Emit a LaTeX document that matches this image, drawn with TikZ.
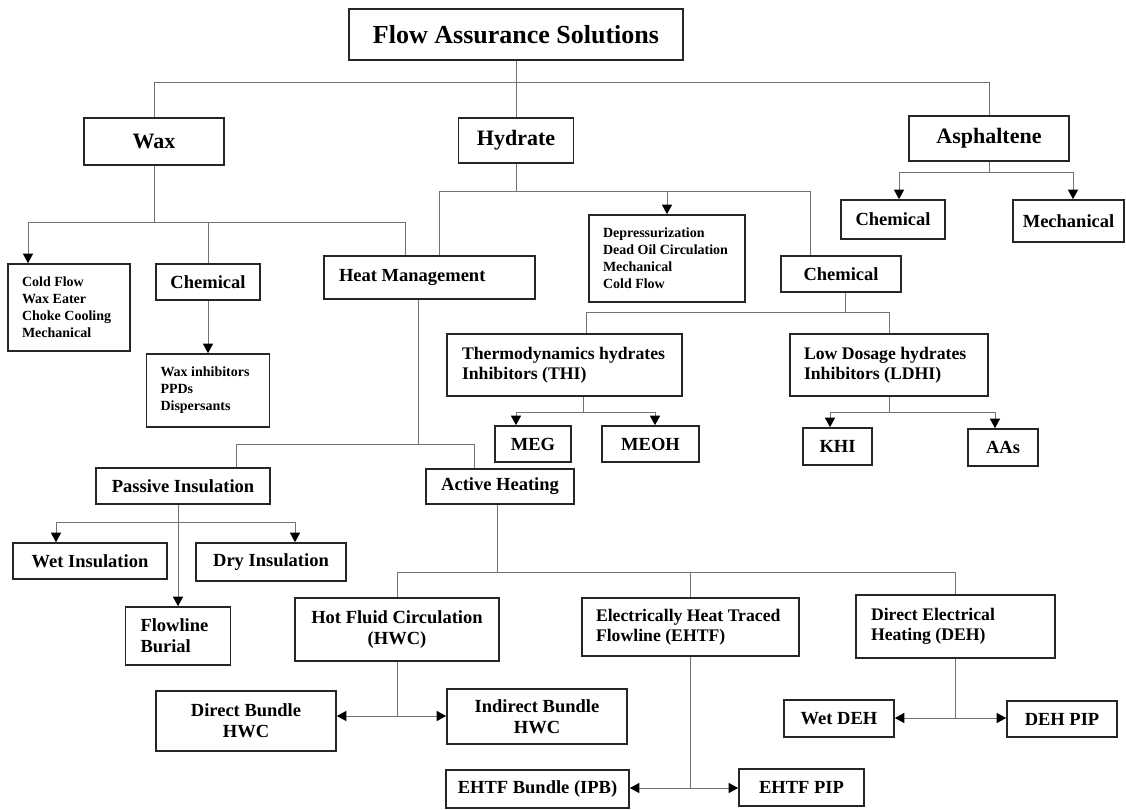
\documentclass[tikz,border=0pt]{standalone}
\usepackage{fontspec}
\setmainfont{Liberation Serif}
\usetikzlibrary{arrows.meta}

\tikzset{
  box/.style={draw=black!85, line width=1.6pt, inner sep=0pt, align=center,
    font=\fontsize{18.5}{21}\selectfont\bfseries},
  topbox/.style={box, font=\fontsize{22}{26}\selectfont\bfseries},
  leftbox/.style={box, align=flush left, font=\fontsize{17.7}{20.5}\selectfont\bfseries},
  listbox/.style={box, align=flush left, font=\fontsize{14}{17}\selectfont\bfseries},
  link/.style={draw=black!55, line width=1pt},
  arr/.style={link, -{Triangle[length=9.5pt,width=10pt,color=black]}},
}

\begin{document}
\begin{tikzpicture}[x=1pt, y=-1pt]
  % Page frame
  \useasboundingbox (0,0) rectangle (1126,810);
  \fill[white] (0,0) rectangle (1126,810);

  % Define top level boxes
  \node[box, font=\fontsize{26}{30}\selectfont\bfseries, minimum width=334pt, minimum height=51pt] (root) at (516,34.5) {Flow Assurance Solutions};
  \node[topbox, minimum width=140pt, minimum height=47pt] (wax) at (154,141.5) {Wax};
  \node[topbox, minimum width=115pt, minimum height=45pt] (hydrate) at (516,140.5) {Hydrate};
  \node[topbox, minimum width=160pt, minimum height=45pt] (asph) at (989,138.5) {Asphaltene};

  % Define wax boxes
  \node[listbox, text width=94pt, inner xsep=14pt, minimum height=87pt] (coldflow) at (69,307.5) {Cold Flow\\Wax Eater\\Choke Cooling\\Mechanical};
  \node[box, minimum width=104pt, minimum height=36pt] (waxchem) at (208,282) {Chemical};
  \node[listbox, text width=95pt, inner xsep=14pt, minimum height=73pt] (waxinh) at (208,390.5) {Wax inhibitors\\PPDs\\Dispersants};

  % Define hydrate boxes
  \node[box, align=flush left, text width=181pt, inner xsep=15pt, minimum height=43pt] (hm) at (429.5,277.5) {Heat Management};
  \node[listbox, text width=128pt, inner xsep=14pt, minimum height=87pt] (depress) at (667,258.5) {Depressurization\\Dead Oil Circulation\\Mechanical\\Cold Flow};
  \node[box, minimum width=120pt, minimum height=36pt] (hydchem) at (841,274) {Chemical};
  \node[leftbox, text width=205pt, inner xsep=15pt, minimum height=62pt] (thi) at (564.5,365) {Thermodynamics hydrates\\Inhibitors (THI)};
  \node[leftbox, text width=170pt, inner xsep=14pt, minimum height=62pt] (ldhi) at (889,365) {Low Dosage hydrates\\Inhibitors (LDHI)};
  \node[box, minimum width=76pt, minimum height=36pt] (meg) at (533,444) {MEG};
  \node[box, minimum width=97pt, minimum height=36pt] (meoh) at (650.5,444) {MEOH};
  \node[box, minimum width=69pt, minimum height=37pt] (khi) at (837.5,446.5) {KHI};
  \node[box, minimum width=70pt, minimum height=37pt] (aas) at (1003,447.5) {AAs};

  % Define asphaltene boxes
  \node[box, minimum width=104pt, minimum height=39pt] (asphchem) at (893,219.5) {Chemical};
  \node[box, minimum width=111pt, minimum height=42pt] (asphmech) at (1068.5,221) {Mechanical};

  % Define heat management boxes
  \node[box, minimum width=174pt, minimum height=36pt] (passive) at (183,486) {Passive Insulation};
  \node[box, minimum width=148pt, minimum height=35pt] (active) at (500,486.5) {Active Heating};
  \node[box, minimum width=154pt, minimum height=36pt] (wetins) at (90,561) {Wet Insulation};
  \node[box, minimum width=150pt, minimum height=38pt] (dryins) at (271,562) {Dry Insulation};
  \node[box, align=flush left, text width=75pt, inner xsep=15pt, minimum height=58pt] (burial) at (178,636) {Flowline\\Burial};
  \node[box, minimum width=204pt, minimum height=63pt] (hfc) at (397,629.5) {Hot Fluid Circulation\\(HWC)};
  \node[leftbox, text width=189pt, inner xsep=14pt, minimum height=58pt] (ehtf) at (690.5,627) {Electrically Heat Traced\\Flowline (EHTF)};
  \node[leftbox, text width=169pt, inner xsep=15pt, minimum height=63pt] (deh) at (955.5,626.5) {Direct Electrical\\Heating (DEH)};
  \node[box, minimum width=180pt, minimum height=60pt] (directb) at (246,721) {Direct Bundle\\HWC};
  \node[box, minimum width=180pt, minimum height=55pt] (indirectb) at (537,716.5) {Indirect Bundle\\HWC};
  \node[box, minimum width=183pt, minimum height=38pt] (ehtfb) at (537.5,789) {EHTF Bundle (IPB)};
  \node[box, minimum width=125pt, minimum height=37pt] (ehtfpip) at (801.5,787.5) {EHTF PIP};
  \node[box, minimum width=110pt, minimum height=37pt] (wetdeh) at (839,718.5) {Wet DEH};
  \node[box, minimum width=110pt, minimum height=36pt] (dehpip) at (1062,719) {DEH PIP};

  % Define bus points
  \coordinate (rootbus) at (516,83);
  \coordinate (waxbus) at (154,223);
  \coordinate (hydbus) at (516,192);
  \coordinate (asphbus) at (989,173);
  \coordinate (chembus) at (845,312);
  \coordinate (thibus) at (583,412);
  \coordinate (ldhibus) at (889,412);
  \coordinate (hmbus) at (418,444);
  \coordinate (passbus) at (178,522);
  \coordinate (actbus) at (497,572);
  \coordinate (hfcbus) at (397,716);
  \coordinate (ehtfbus) at (690.5,788);
  \coordinate (dehbus) at (955.5,718);

  % Draw top level links
  \draw[link] (root.south) -- (rootbus);
  \draw[link] (rootbus) -| (wax.north);
  \draw[link] (rootbus) -- (hydrate.north);
  \draw[link] (rootbus) -| (asph.north);

  % Draw wax links
  \draw[link] (wax.south) -- (waxbus);
  \draw[arr] (waxbus) -| ([xshift=-41pt]coldflow.north);
  \draw[link] (waxbus) -| (waxchem.north);
  \draw[link] (waxbus) -| ([xshift=-24pt]hm.north);
  \draw[arr] (waxchem) -- (waxinh);

  % Draw hydrate links
  \draw[link] (hydrate.south) -- (hydbus);
  \draw[link] (hydbus) -| ([xshift=9.5pt]hm.north);
  \draw[arr] (hydbus) -| (depress.north);
  \draw[link] (hydbus) -| ([xshift=-31pt]hydchem.north);
  \draw[link] ([xshift=4pt]hydchem.south) -- (chembus);
  \draw[link] (chembus) -| ([xshift=21.5pt]thi.north);
  \draw[link] (chembus) -| (ldhi.north);
  \draw[link] ([xshift=18.5pt]thi.south) -- (thibus);
  \draw[arr] (thibus) -| ([xshift=-17pt]meg.north);
  \draw[arr] (thibus) -| ([xshift=4.5pt]meoh.north);
  \draw[link] (ldhi.south) -- (ldhibus);
  \draw[arr] (ldhibus) -| ([xshift=-7.5pt]khi.north);
  \draw[arr] (ldhibus) -| ([xshift=-8pt]aas.north);

  % Draw asphaltene links
  \draw[link] (asph.south) -- (asphbus);
  \draw[arr] (asphbus) -| ([xshift=6pt]asphchem.north);
  \draw[arr] (asphbus) -| ([xshift=4.5pt]asphmech.north);

  % Draw heat management links
  \draw[link] ([xshift=-11.5pt]hm.south) -- (hmbus);
  \draw[link] (hmbus) -| ([xshift=53pt]passive.north);
  \draw[link] (hmbus) -| ([xshift=-26pt]active.north);
  \draw[link] ([xshift=-5pt]passive.south) -- (passbus);
  \draw[arr] (passbus) -- (burial.north);
  \draw[arr] (passbus) -| ([xshift=-34pt]wetins.north);
  \draw[arr] (passbus) -| ([xshift=24pt]dryins.north);
  \draw[link] ([xshift=-3pt]active.south) -- (actbus);
  \draw[link] (actbus) -| (hfc.north);
  \draw[link] (actbus) -| (ehtf.north);
  \draw[link] (actbus) -| (deh.north);

  % Draw bundle links
  \draw[link] (hfc.south) -- (hfcbus);
  \draw[arr] (hfcbus) -- (directb.east |- hfcbus);
  \draw[arr] (hfcbus) -- (indirectb.west |- hfcbus);
  \draw[link] (ehtf.south) -- (ehtfbus);
  \draw[arr] (ehtfbus) -- (ehtfb.east |- ehtfbus);
  \draw[arr] (ehtfbus) -- (ehtfpip.west |- ehtfbus);
  \draw[link] (deh.south) -- (dehbus);
  \draw[arr] (dehbus) -- (wetdeh.east |- dehbus);
  \draw[arr] (dehbus) -- (dehpip.west |- dehbus);
\end{tikzpicture}
\end{document}
